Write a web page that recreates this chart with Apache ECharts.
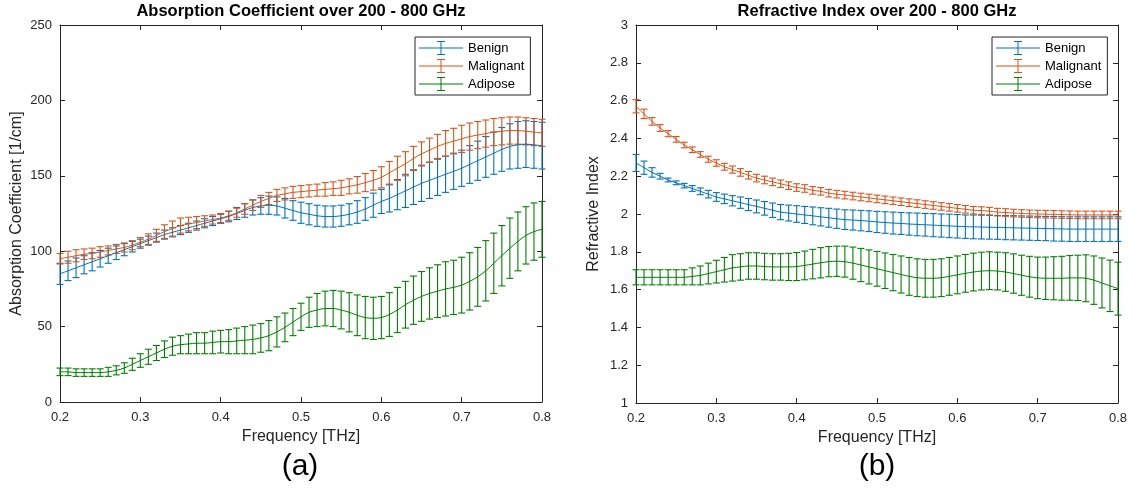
<!DOCTYPE html>
<html>
<head>
<meta charset="utf-8">
<script src="https://cdn.jsdelivr.net/npm/echarts@6/dist/echarts.min.js"></script>
<style>
html,body{margin:0;padding:0;background:#fff;}
#chart{width:1134px;height:490px;}
</style>
</head>
<body>
<div id="chart"></div>
<script>
// Frequencies (THz)
const freq = [0.20,0.21,0.22,0.23,0.24,0.25,0.26,0.27,0.28,0.29,
0.30,0.31,0.32,0.33,0.34,0.35,0.36,0.37,0.38,0.39,
0.40,0.41,0.42,0.43,0.44,0.45,0.46,0.47,0.48,0.49,
0.50,0.51,0.52,0.53,0.54,0.55,0.56,0.57,0.58,0.59,
0.60,0.61,0.62,0.63,0.64,0.65,0.66,0.67,0.68,0.69,
0.70,0.71,0.72,0.73,0.74,0.75,0.76,0.77,0.78,0.79,0.80];

const seriesNames = ['Benign','Malignant','Adipose'];

// (a) Absorption coefficient [1/cm]
const absBenignMean = [85,87,89,91,93,95,97,99,101,103,
105,107,109,111,112.5,114,115.5,117,118.5,120,
121.5,123,125,127,129,130,130.5,130,128.5,127,
125.5,124.5,123.5,123,123,123.5,124.5,126,128,130.5,
133,135,137.5,140,142.5,145,147,149,151,153,
155,157.5,160,162.5,165,167.5,169.5,170.5,171,170.5,170];
const absBenignErr = [7,6.5,6.5,6,6,5.5,5,4.5,4,3.5,
3,3,3,3,3,3,3,3,3,3,
3,3.5,4,4.5,5,5.5,6,6,6.5,6.5,
7,7,7,7,7,7,7,7.5,7.5,8,
8,9,10,11,11.5,12,12,12,12,12,
12,12.5,13,13.5,14,14.5,15,15.5,15.5,15.5,15.5];

const absMalMean = [95,96,97,98,98.5,99.5,100.5,101.5,102.5,104,
106,108,110.5,113,115,117,118,119,120,121,
122,123.5,125.5,128,130.5,133,135,137,138,139,
139.5,140,140.5,141,141.5,142,143,144,145.5,147,
149,152,155,158,161.5,164.5,167,169.5,171.5,173,
174.5,176,177,178,179,179.5,180,180,179.5,179,178.5];
const absMalErr = [3.5,4,4,3.5,3.5,3.5,3,3,3,3,
3,3.5,4,4.5,5,5,4.5,4,3.5,3,
3,3,3,3.5,3.5,4,4,4,4,4,
4,4,4,4.5,4.5,5,5,5.5,6,6.5,
7,7.5,8,8,8,8,8,8,8.5,8.5,
9,9,9,9,9,9,9,9,9,9,9];

const absAdiMean = [20,20,19.5,19.5,19.5,19.5,20,21,22.5,25,
27.5,30,32.5,35,37,38,38.5,39,39,39.5,
40,40,40.5,41,41.5,42.5,44,46.5,49.5,53,
56.5,59.5,61,62,62,61,59.5,57.5,56,55.5,
56,58,61,64.5,67.5,70,72,73.5,75,76,
77.5,80,83,87,92,97,102,106.5,110.5,113,114.5];
const absAdiErr = [2.5,2.5,2.5,2.5,2.5,2.5,3,3,3.5,4,
4.5,5,5,5.5,6,6,6.5,7,7,7.5,
7.5,8,8.5,9,9.5,9.5,10,10,9.5,9,
9,10,11,11.5,12,12.5,13,13.5,14,14,
14,14.5,15,15.5,16,16.5,17,17.5,18,18,
18.5,19,19.5,20,20,20,20,19.5,19,19,18.5];

// (b) Refractive index
const riBenignMean = [2.27,2.245,2.22,2.20,2.18,2.165,2.15,2.135,2.12,2.105,
2.09,2.08,2.07,2.06,2.05,2.04,2.03,2.02,2.01,2.005,
2.00,1.995,1.99,1.985,1.98,1.975,1.97,1.968,1.965,1.962,
1.958,1.955,1.952,1.95,1.947,1.945,1.943,1.941,1.939,1.937,
1.935,1.933,1.932,1.931,1.93,1.929,1.928,1.927,1.926,1.925,
1.924,1.923,1.922,1.921,1.92,1.92,1.92,1.92,1.92,1.92,1.92];
const riBenignErr = [0.045,0.035,0.025,0.015,0.01,0.01,0.012,0.015,0.018,0.02,
0.023,0.025,0.027,0.03,0.032,0.034,0.036,0.038,0.04,0.042,
0.044,0.045,0.047,0.048,0.05,0.051,0.052,0.053,0.054,0.055,
0.056,0.057,0.058,0.058,0.059,0.06,0.06,0.061,0.061,0.062,
0.062,0.062,0.063,0.063,0.063,0.063,0.064,0.064,0.064,0.064,
0.064,0.064,0.065,0.065,0.065,0.065,0.065,0.065,0.065,0.065,0.065];

const riMalMean = [2.57,2.53,2.49,2.455,2.425,2.395,2.365,2.34,2.315,2.29,
2.27,2.25,2.235,2.22,2.205,2.19,2.18,2.17,2.16,2.15,
2.14,2.135,2.125,2.12,2.11,2.105,2.10,2.095,2.09,2.085,
2.08,2.075,2.07,2.065,2.06,2.055,2.05,2.045,2.04,2.035,
2.03,2.025,2.02,2.018,2.015,2.01,2.008,2.005,2.003,2.001,
2.0,1.999,1.998,1.997,1.996,1.995,1.995,1.995,1.995,1.995,1.995];
const riMalErr = [0.035,0.025,0.02,0.018,0.016,0.015,0.015,0.015,0.015,0.016,
0.017,0.018,0.019,0.02,0.02,0.02,0.02,0.02,0.02,0.02,
0.02,0.02,0.02,0.02,0.02,0.02,0.02,0.02,0.02,0.02,
0.02,0.02,0.02,0.02,0.02,0.02,0.02,0.02,0.02,0.02,
0.02,0.02,0.02,0.02,0.02,0.02,0.02,0.02,0.02,0.02,
0.02,0.02,0.02,0.02,0.02,0.02,0.02,0.02,0.02,0.02,0.02];

const riAdiMean = [1.665,1.665,1.665,1.665,1.665,1.665,1.665,1.67,1.675,1.685,
1.695,1.705,1.715,1.72,1.725,1.725,1.722,1.72,1.72,1.72,
1.722,1.728,1.735,1.742,1.748,1.75,1.748,1.74,1.73,1.72,
1.71,1.70,1.69,1.68,1.67,1.663,1.66,1.66,1.663,1.67,
1.678,1.686,1.693,1.698,1.70,1.698,1.693,1.685,1.676,1.668,
1.662,1.66,1.66,1.66,1.662,1.662,1.66,1.65,1.635,1.62,1.605];
const riAdiErr = [0.04,0.04,0.04,0.04,0.04,0.04,0.04,0.045,0.05,0.055,
0.06,0.065,0.07,0.07,0.07,0.07,0.07,0.07,0.07,0.072,
0.074,0.076,0.078,0.08,0.08,0.08,0.082,0.085,0.088,0.09,
0.092,0.094,0.096,0.098,0.1,0.1,0.1,0.1,0.1,0.1,
0.1,0.1,0.1,0.1,0.1,0.1,0.102,0.104,0.106,0.108,
0.11,0.112,0.114,0.116,0.118,0.12,0.124,0.128,0.132,0.136,0.14];

const colors = ['#0072BD','#D95319','#008000'];
const FONT = '"Liberation Sans", Arial, Helvetica, sans-serif';
const AX = '#262626';

function meanSeries(name, mean, idx, color) {
  return {
    type: 'line', name: name, xAxisIndex: idx * 2, yAxisIndex: idx * 2,
    data: freq.map((f, i) => [f, mean[i]]),
    showSymbol: false, symbol: 'none', smooth: 0.3,
    lineStyle: { color: color, width: 1 }, itemStyle: { color: color },
    z: 3, silent: true
  };
}
function errSeries(name, mean, err, idx, color) {
  return {
    type: 'custom', name: name + ' err', xAxisIndex: idx * 2, yAxisIndex: idx * 2,
    data: freq.map((f, i) => [f, mean[i] - err[i], mean[i] + err[i]]),
    encode: { x: 0, y: [1, 2] },
    silent: true, z: 2,
    renderItem: function (params, api) {
      const x = api.value(0);
      const lo = api.coord([x, api.value(1)]);
      const hi = api.coord([x, api.value(2)]);
      const w = 3.5;
      const st = { stroke: color, lineWidth: 1.1 };
      return {
        type: 'group', children: [
          { type: 'line', shape: { x1: lo[0], y1: lo[1], x2: hi[0], y2: hi[1] }, style: st },
          { type: 'line', shape: { x1: lo[0] - w, y1: lo[1], x2: lo[0] + w, y2: lo[1] }, style: st },
          { type: 'line', shape: { x1: hi[0] - w, y1: hi[1], x2: hi[0] + w, y2: hi[1] }, style: st }
        ]
      };
    }
  };
}

const grids = [
  { left: 60, top: 25, width: 482, height: 377 },
  { left: 636, top: 25, width: 482, height: 378 }
];

function xAxes(g) {
  const base = {
    gridIndex: g, type: 'value', min: 0.2, max: 0.8, interval: 0.1,
    splitLine: { show: false },
    axisLine: { show: true, onZero: false, lineStyle: { color: AX, width: 1 } },
    axisTick: { show: true, inside: true, length: 5, lineStyle: { color: AX } }
  };
  return [
    Object.assign({}, base, {
      position: 'bottom',
      name: 'Frequency [THz]', nameLocation: 'middle', nameGap: 27,
      nameTextStyle: { fontFamily: FONT, fontSize: 16, color: AX },
      axisLabel: { fontFamily: FONT, fontSize: 13, color: AX, margin: 9,
        formatter: v => v.toFixed(1) }
    }),
    Object.assign({}, base, { position: 'top', axisLabel: { show: false } })
  ];
}
function yAxes(g, min, max, interval, name, gap, fmt) {
  const base = {
    gridIndex: g, type: 'value', min: min, max: max, interval: interval,
    splitLine: { show: false },
    axisLine: { show: true, onZero: false, lineStyle: { color: AX, width: 1 } },
    axisTick: { show: true, inside: true, length: 5, lineStyle: { color: AX } }
  };
  return [
    Object.assign({}, base, {
      position: 'left',
      name: name, nameLocation: 'middle', nameGap: gap, nameRotate: 90,
      nameTextStyle: { fontFamily: FONT, fontSize: 16, color: AX },
      axisLabel: { fontFamily: FONT, fontSize: 13, color: AX, margin: 8, formatter: fmt }
    }),
    Object.assign({}, base, { position: 'right', axisLabel: { show: false } })
  ];
}

const legendIcon = 'path://M0,6.5h44v1h-44z M21.5,0.5h1v13h-1z M18,0h8v1h-8z M18,13h8v1h-8z';
function legend(left) {
  return {
    left: left, top: 37, orient: 'vertical', data: seriesNames,
    icon: legendIcon, itemWidth: 44, itemHeight: 14, itemGap: 4,
    padding: [4, 6, 4, 4],
    backgroundColor: '#fff', borderColor: AX, borderWidth: 1, borderRadius: 0,
    textStyle: { fontFamily: FONT, fontSize: 13, color: '#000' },
    selectedMode: false
  };
}

const series = [];
[[absBenignMean, absBenignErr], [absMalMean, absMalErr], [absAdiMean, absAdiErr]].forEach((d, k) => {
  series.push(meanSeries(seriesNames[k], d[0], 0, colors[k]));
});
[[riBenignMean, riBenignErr], [riMalMean, riMalErr], [riAdiMean, riAdiErr]].forEach((d, k) => {
  series.push(meanSeries(seriesNames[k], d[0], 1, colors[k]));
});
[[absBenignMean, absBenignErr], [absMalMean, absMalErr], [absAdiMean, absAdiErr]].forEach((d, k) => {
  series.push(errSeries(seriesNames[k], d[0], d[1], 0, colors[k]));
});
[[riBenignMean, riBenignErr], [riMalMean, riMalErr], [riAdiMean, riAdiErr]].forEach((d, k) => {
  series.push(errSeries(seriesNames[k], d[0], d[1], 1, colors[k]));
});

function txt(x, y, text, size, weight) {
  return { type: 'text', x: x, y: y, silent: true,
    style: { text: text, fontFamily: FONT, fontSize: size, fontWeight: weight || 'normal',
      fill: '#000', textAlign: 'center', textVerticalAlign: 'middle' } };
}

const chart = echarts.init(document.getElementById('chart'), null, { renderer: 'canvas' });
chart.setOption({
  animation: false,
  backgroundColor: '#fff',
  grid: grids,
  xAxis: xAxes(0).concat(xAxes(1)),
  yAxis: yAxes(0, 0, 250, 50, 'Absorption Coefficient [1/cm]', 35, v => String(v))
    .concat(yAxes(1, 1, 3, 0.2, 'Refractive Index', 34, v => String(+v.toFixed(1)))),
  legend: [legend(415), legend(992)],
  series: series,
  graphic: [
    txt(301, 11, 'Absorption Coefficient over 200 - 800 GHz', 16.5, 'bold'),
    txt(877, 11, 'Refractive Index over 200 - 800 GHz', 16.5, 'bold'),
    txt(300, 467, '(a)', 30),
    txt(877, 467, '(b)', 30)
  ]
});
</script>
</body>
</html>
